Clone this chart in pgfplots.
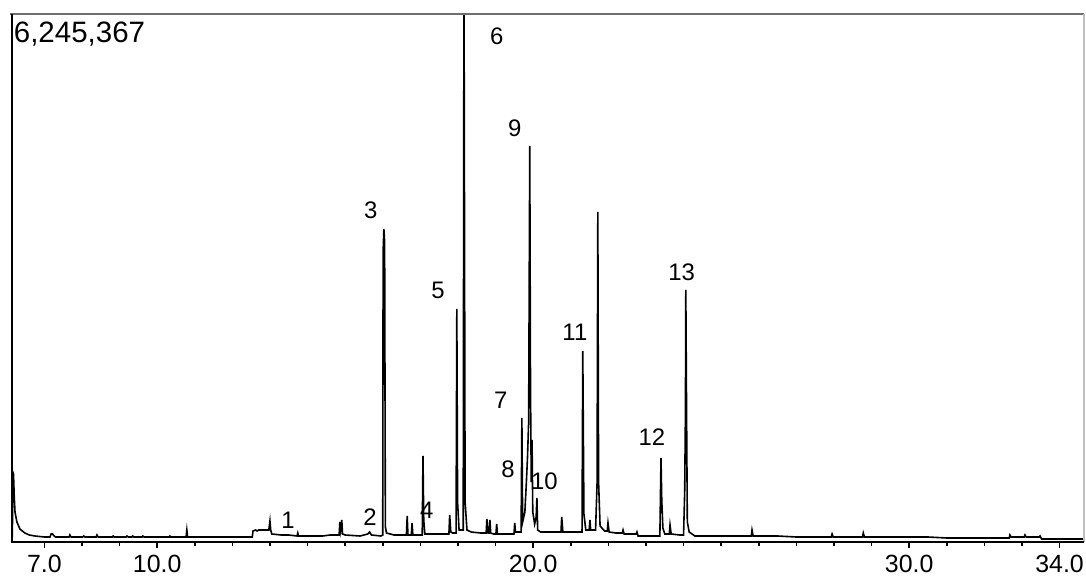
\documentclass[border=0pt]{standalone}
\usepackage{fontspec}
\setmainfont{Liberation Sans}
\usepackage{pgfplots}
\pgfplotsset{compat=1.18}
\usetikzlibrary{calc}
\definecolor{frametop}{HTML}{6E6E6E}
\begin{document}
\begin{tikzpicture}
\begin{axis}[
    name=ax,
    scale only axis,
    width=536bp, height=264bp,
    xmin=6.14, xmax=34.65,
    ymin=0, ymax=528,
    clip mode=individual,
    axis line style={draw=none},
    xtick={7,10,20,30,34},
    xticklabels={7.0,10.0,20.0,30.0,34.0},
    minor xtick={7,8,...,34},
    ytick=\empty,
    xtick pos=lower,
    tick align=outside,
    major tick length=3bp, minor tick length=2bp,
    tick style={black, line width=0.8bp},
    xticklabel style={font=\fontsize{12.5}{14}\selectfont},
]
% chromatogram trace (time in min, signal height)
\addplot[black, line width=0.8bp] coordinates {
(6.15,5) (6.16,70) (6.18,68) (6.20,45) (6.22,30) (6.27,20) (6.35,13) (6.48,9) (6.6,7) (6.75,6) (7.0,5)
(7.15,5) (7.18,8) (7.22,8) (7.26,6) (7.3,5)
(7.66,5) (7.68,7) (7.71,5) (8.02,5) (8.05,6) (8.08,5)
(8.38,5) (8.40,7) (8.43,5) (8.81,5) (8.83,6) (8.86,5)
(9.18,5) (9.20,6) (9.23,5) (9.33,5) (9.35,6) (9.38,5) (9.60,5) (9.62,6) (9.65,5)
(10.32,5) (10.34,6) (10.36,5) (10.77,5) (10.79,12) (10.81,5)
(12.53,5) (12.55,11) (12.62,12) (12.66,11) (12.70,12) (12.97,12) (13.00,21) (13.02,12) (13.05,8)
(13.3,7) (13.5,7) (13.72,6) (13.74,9) (13.76,6) (14.0,6) (14.4,6) (14.6,7)
(14.84,7) (14.86,20) (14.88,12) (14.91,22) (14.93,8) (15.0,7) (15.4,6) (15.6,8) (15.65,10) (15.7,7) (15.95,6)
(16.00,7) (16.01,290) (16.03,313) (16.05,300) (16.07,15) (16.10,9) (16.3,7)
(16.63,7) (16.65,26) (16.67,7) (16.76,7) (16.78,19) (16.80,7)
(17.05,7) (17.07,86) (17.09,22) (17.12,8) (17.4,8) (17.76,8) (17.78,27) (17.81,10) (17.86,9)
(17.95,9) (17.97,233) (17.99,40) (18.03,12)
(18.14,12) (18.16,580) (18.19,40) (18.24,12) (18.35,10) (18.6,9)
(18.75,9) (18.77,23) (18.80,9) (18.83,9) (18.85,22) (18.87,9) (18.95,8) (19.01,8) (19.03,18) (19.05,8) (19.3,8)
(19.49,8) (19.51,19) (19.53,10) (19.6,10) (19.68,10) (19.70,124) (19.72,20) (19.78,30) (19.82,60)
(19.85,85) (19.88,120) (19.91,396) (19.93,150) (19.95,60) (19.97,102) (19.99,30) (20.04,18) (20.08,25)
(20.10,44) (20.12,12) (20.2,10)
(20.74,10) (20.76,25) (20.79,10)
(21.30,10) (21.32,191) (21.35,28) (21.40,12) (21.49,12) (21.51,22) (21.53,12)
(21.66,12) (21.70,59) (21.72,330) (21.74,60) (21.78,16) (21.9,11) (21.97,11) (21.99,19) (22.02,10)
(22.2,9) (22.37,9) (22.39,12) (22.42,8) (22.6,8) (22.74,8) (22.76,10) (22.79,6) (23.2,6)
(23.37,6) (23.40,84) (23.42,42) (23.45,14) (23.5,8) (23.62,8) (23.64,17) (23.67,8) (23.9,7)
(24.00,7) (24.03,50) (24.05,130) (24.06,252) (24.08,130) (24.10,20) (24.15,10) (24.3,6) (24.6,6)
(25.80,6) (25.82,12) (25.85,6) (26.5,6)
(27.0,5) (27.93,5) (27.95,8) (27.98,5) (28.76,5) (28.78,9) (28.81,5) (29.5,5)
(30.5,5) (31.0,4) (32.0,4) (32.66,4) (32.68,7) (32.71,5) (33.06,5) (33.08,7) (33.11,5)
(33.46,5) (33.48,6) (33.52,3) (34.65,3)
};
% peak labels
\begin{scope}[every node/.style={font=\fontsize{12}{14}\selectfont, inner sep=0pt}]
\node at (axis cs:13.48,22) {1};
\node at (axis cs:15.66,25) {2};
\node at (axis cs:15.68,332) {3};
\node at (axis cs:17.17,32) {4};
\node at (axis cs:17.47,252) {5};
\node at (axis cs:19.03,506) {6};
\node at (axis cs:19.14,142) {7};
\node at (axis cs:19.33,73) {8};
\node at (axis cs:19.51,414) {9};
\node at (axis cs:20.30,61) {10};
\node at (axis cs:21.11,210) {11};
\node at (axis cs:23.16,105) {12};
\node at (axis cs:23.95,270) {13};
\end{scope}
\node[anchor=west, inner sep=0pt, font=\fontsize{14.8}{16}\selectfont] at (axis cs:6.18,508) {6,245,367};
\end{axis}
\draw[frametop, line width=1.4bp] ($(ax.north west)+(-1bp,0)$) -- (ax.north east);
\draw[black!25, line width=0.6bp] (ax.north east) -- (ax.south east);
\draw[black, line width=1.1bp] (ax.south west) -- (ax.north west);
\draw[black, line width=1bp] ($(ax.south west)+(-0.5bp,0)$) -- (ax.south east);
\pgfresetboundingbox
\path ($(ax.south west)+(-6bp,-17bp)$) rectangle ($(ax.north east)+(1bp,7bp)$);
\end{tikzpicture}
\end{document}
